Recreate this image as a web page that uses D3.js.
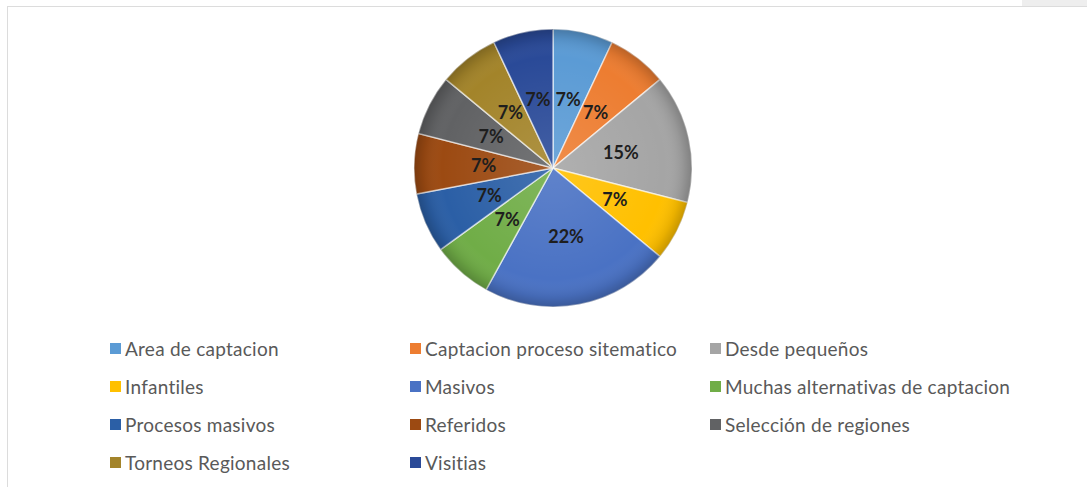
<!DOCTYPE html>
<meta charset="utf-8">
<style>
  body { margin: 0; background: #fff; }
  .legend text { font: 19px Lato, "Open Sans", sans-serif; fill: #595959; letter-spacing: 0.25px; }
  .lbl { font: bold 18px Lato, "Open Sans", sans-serif; fill: #1e1e1e; }
</style>
<body>
<script src="https://d3js.org/d3.v7.min.js"></script>
<script>
// data
var categories = ["Area de captacion", "Captacion proceso sitematico", "Desde pequeños",
  "Infantiles", "Masivos", "Muchas alternativas de captacion", "Procesos masivos",
  "Referidos", "Selección de regiones", "Torneos Regionales", "Visitias"];
var values = [7, 7, 15, 7, 22, 7, 7, 7, 7, 7, 7];
var colors = ["#5b9bd5", "#ed7d31", "#a5a5a5", "#ffc000", "#4a72c4", "#70ad47",
  "#2b5fa6", "#9c4a12", "#616264", "#a3842a", "#2a4a98"];

var W = 1087, H = 487;
var cx = 553, cy = 168, r = 139;

var svg = d3.select("body").append("svg")
  .attr("width", W).attr("height", H);

// frame lines
svg.append("rect").attr("x", 1022).attr("y", 0).attr("width", 65).attr("height", 6).attr("fill", "#eeeeee");
svg.append("line").attr("x1", 7).attr("x2", W).attr("y1", 6.5).attr("y2", 6.5).attr("stroke", "#dcdcdc");
svg.append("line").attr("x1", 7.5).attr("x2", 7.5).attr("y1", 6).attr("y2", H).attr("stroke", "#dcdcdc");

var defs = svg.append("defs");
var shade = defs.append("radialGradient").attr("id", "shade")
  .attr("cx", "50%").attr("cy", "50%").attr("r", "50%");
shade.append("stop").attr("offset", "0%").attr("stop-color", "#fff").attr("stop-opacity", 0.12);
shade.append("stop").attr("offset", "80%").attr("stop-color", "#fff").attr("stop-opacity", 0);
shade.append("stop").attr("offset", "93%").attr("stop-color", "#000").attr("stop-opacity", 0.08);
shade.append("stop").attr("offset", "100%").attr("stop-color", "#000").attr("stop-opacity", 0.22);

var pie = d3.pie().sort(null).value(function(d) { return d; });
var arcs = pie(values);
var arc = d3.arc().innerRadius(0).outerRadius(r);
var labelArc = d3.arc().innerRadius(r * 0.5).outerRadius(r * 0.5);

var g = svg.append("g").attr("transform", "translate(" + cx + "," + cy + ")");

g.selectAll("path.slice").data(arcs).enter().append("path")
  .attr("class", "slice")
  .attr("d", arc)
  .attr("fill", function(d, i) { return colors[i]; })
  .attr("stroke", "rgba(255,255,255,0.6)")
  .attr("stroke-width", 1.5);

// bevel-ish overlay
g.append("circle").attr("r", r).attr("fill", "url(#shade)").attr("pointer-events", "none");

g.selectAll("text.lbl").data(arcs).enter().append("text")
  .attr("class", "lbl")
  .attr("transform", function(d) { return "translate(" + labelArc.centroid(d) + ")"; })
  .attr("text-anchor", "middle")
  .attr("dy", "0.35em")
  .text(function(d) { return d.data + "%"; });

// legend, 3 columns
var colX = [110, 410, 710], rowY0 = 349, rowH = 38;
var leg = svg.append("g").attr("class", "legend");
var item = leg.selectAll("g").data(categories).enter().append("g")
  .attr("transform", function(d, i) {
    return "translate(" + colX[i % 3] + "," + (rowY0 + Math.floor(i / 3) * rowH) + ")";
  });
item.append("rect").attr("x", 0).attr("y", -6).attr("width", 11).attr("height", 11)
  .attr("fill", function(d, i) { return colors[i]; });
item.append("text").attr("x", 15).attr("dy", "0.35em").text(function(d) { return d; });
</script>
</body>
